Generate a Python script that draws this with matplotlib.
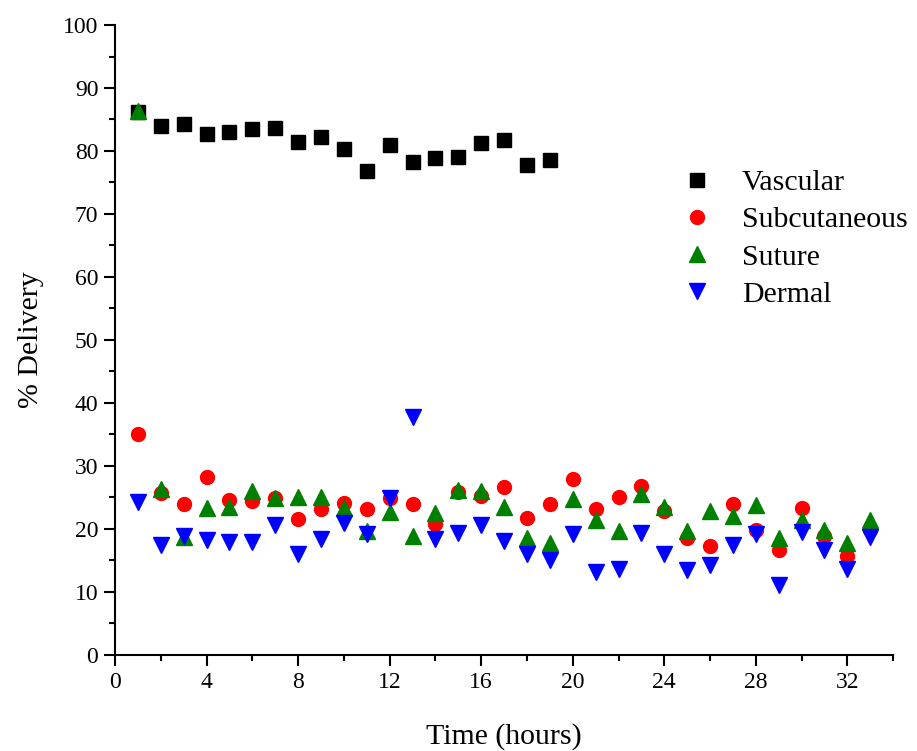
import numpy as np
import matplotlib
matplotlib.use("Agg")
import matplotlib.pyplot as plt
from matplotlib.ticker import MultipleLocator

plt.rcParams['font.family'] = ['Liberation Serif', 'DejaVu Serif']
plt.rcParams['mathtext.fontset'] = 'stix'

# data (hours, % delivery)
hours = np.arange(1, 34)
vascular_hours = np.arange(1, 20)
vascular = [86.2, 84.0, 84.3, 82.7, 83.0, 83.5, 83.6, 81.5, 82.3, 80.3,
            76.8, 80.9, 78.2, 78.9, 79.0, 81.2, 81.8, 77.7, 78.5]
subcutaneous = [35.1, 25.7, 23.9, 28.3, 24.6, 24.5, 24.9, 21.6, 23.1, 24.1,
                23.2, 24.9, 23.9, 20.8, 25.8, 25.2, 26.7, 21.8, 23.9, 28.0,
                23.1, 25.1, 26.8, 22.8, 18.6, 17.3, 23.9, 19.8, 16.6, 23.4,
                18.9, 15.7, 19.8]
suture = [86.4, 26.4, 18.8, 23.4, 23.5, 26.1, 24.9, 25.0, 25.0, 23.3,
          19.7, 22.7, 18.9, 22.5, 26.2, 26.1, 23.5, 18.5, 17.8, 24.7,
          21.5, 19.7, 25.6, 23.5, 19.7, 22.9, 22.1, 23.8, 18.6, 21.4,
          19.8, 17.8, 21.5]
dermal = [24.3, 17.5, 18.9, 18.3, 17.9, 17.9, 20.6, 16.1, 18.4, 20.9,
          19.2, 24.9, 37.8, 18.4, 19.4, 20.6, 18.1, 16.0, 15.1, 19.2,
          13.1, 13.7, 19.3, 16.1, 13.5, 14.3, 17.5, 19.2, 11.1, 19.5,
          16.6, 13.7, 18.7]

fig = plt.figure(figsize=(9.17, 7.51), dpi=100)
ax = fig.add_axes([0.1254, 0.1279, 0.8486, 0.8388])

ax.plot(vascular_hours, vascular, 's', color='black', ms=9.5, ls='none', label='Vascular')
ax.plot(hours, subcutaneous, 'o', color='red', ms=10, ls='none', label='Subcutaneous')
ax.plot(hours, suture, '^', color='green', ms=11, ls='none', label='Suture')
ax.plot(hours, dermal, 'v', color='blue', ms=11, ls='none', label='Dermal')

ax.set_xlim(0, 34)
ax.set_ylim(0, 100)
ax.xaxis.set_major_locator(MultipleLocator(4))
ax.xaxis.set_minor_locator(MultipleLocator(2))
ax.yaxis.set_major_locator(MultipleLocator(10))
ax.yaxis.set_minor_locator(MultipleLocator(5))

for side in ['top', 'right']:
    ax.spines[side].set_visible(False)
for side in ['left', 'bottom']:
    ax.spines[side].set_linewidth(1.5)

ax.tick_params(which='major', direction='out', length=8, width=1.5, labelsize=17, pad=4)
ax.tick_params(which='minor', direction='out', length=4.5, width=1.5)

ax.set_xlabel('Time (hours)', fontsize=21.5, labelpad=22)
ax.set_ylabel('% Delivery', fontsize=21.5, labelpad=14)

ax.legend(frameon=False, loc='center left', bbox_to_anchor=(0.729, 0.661),
          fontsize=21.5, handlelength=1, handletextpad=1.0, borderpad=0,
          borderaxespad=0, labelspacing=0.34, numpoints=1)

fig.savefig('out.png', dpi=100)
